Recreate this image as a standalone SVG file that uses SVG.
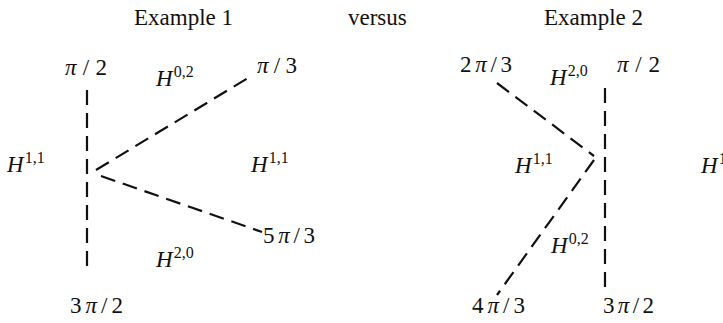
<svg xmlns="http://www.w3.org/2000/svg" width="723" height="323" viewBox="0 0 723 323">
<style>
.it{font-style:italic}
.dash{stroke:#111;stroke-width:2.2;stroke-dasharray:15 8;fill:none}
</style>
<rect width="723" height="323" fill="#fff"/>
<g font-family="Liberation Serif, serif" font-size="23" fill="#111">
<g id="titles">
<text x="134" y="25">Example 1</text>
<text x="348" y="25">versus</text>
<text x="544" y="25">Example 2</text>
</g>
<g id="connectors">
<line class="dash" x1="87" y1="90" x2="87" y2="268"/>
<line class="dash" x1="96" y1="170" x2="248" y2="78"/>
<line class="dash" x1="101" y1="176" x2="262" y2="232"/>
<line class="dash" x1="605" y1="88" x2="605" y2="295"/>
<line class="dash" x1="497" y1="83" x2="594" y2="156"/>
<line class="dash" x1="594" y1="160" x2="497" y2="295"/>
</g>
<g id="ex1-pi2"><text x="65" y="75" textLength="42" lengthAdjust="spacing"><tspan class="it">π</tspan>/2</text></g>
<g id="ex1-H02"><text x="156" y="86"><tspan class="it">H</tspan><tspan font-size="16" dx="1" dy="-9">0,2</tspan></text></g>
<g id="ex1-pi3"><text x="257" y="73" textLength="40" lengthAdjust="spacing"><tspan class="it">π</tspan>/3</text></g>
<g id="ex1-H11-left"><text x="7" y="172"><tspan class="it">H</tspan><tspan font-size="16" dx="1" dy="-9">1,1</tspan></text></g>
<g id="ex1-H11-mid"><text x="251" y="172"><tspan class="it">H</tspan><tspan font-size="16" dx="1" dy="-9">1,1</tspan></text></g>
<g id="ex1-5pi3"><text x="263" y="243" textLength="52" lengthAdjust="spacing">5<tspan class="it">π</tspan>/3</text></g>
<g id="ex1-H20"><text x="156" y="267"><tspan class="it">H</tspan><tspan font-size="16" dx="1" dy="-9">2,0</tspan></text></g>
<g id="ex1-3pi2"><text x="70" y="313" textLength="53" lengthAdjust="spacing">3<tspan class="it">π</tspan>/2</text></g>
<g id="ex2-2pi3"><text x="460" y="72" textLength="52" lengthAdjust="spacing">2<tspan class="it">π</tspan>/3</text></g>
<g id="ex2-H20"><text x="550" y="85"><tspan class="it">H</tspan><tspan font-size="16" dx="1" dy="-9">2,0</tspan></text></g>
<g id="ex2-pi2"><text x="617" y="72" textLength="43" lengthAdjust="spacing"><tspan class="it">π</tspan>/2</text></g>
<g id="ex2-H11"><text x="515" y="173"><tspan class="it">H</tspan><tspan font-size="16" dx="1" dy="-9">1,1</tspan></text></g>
<g id="ex2-H02"><text x="551" y="253"><tspan class="it">H</tspan><tspan font-size="16" dx="1" dy="-9">0,2</tspan></text></g>
<g id="ex2-4pi3"><text x="472" y="313" textLength="53" lengthAdjust="spacing">4<tspan class="it">π</tspan>/3</text></g>
<g id="ex2-3pi2"><text x="603" y="313" textLength="51" lengthAdjust="spacing">3<tspan class="it">π</tspan>/2</text></g>
<g id="ex2-H11-right"><text x="701" y="173"><tspan class="it">H</tspan><tspan font-size="16" dx="1" dy="-9">1,1</tspan></text></g>
</g>
</svg>
